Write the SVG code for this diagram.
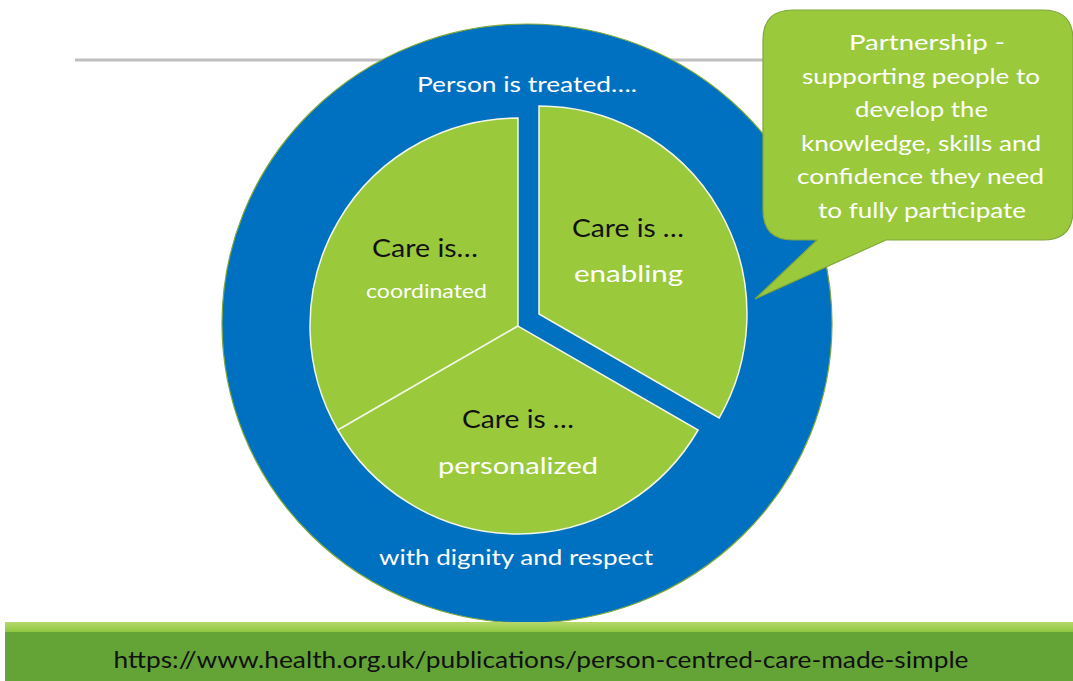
<svg xmlns="http://www.w3.org/2000/svg" width="1073" height="681" viewBox="0 0 1073 681">
  <defs>
    <linearGradient id="stripGrad" x1="0" y1="0" x2="0" y2="1">
      <stop offset="0" stop-color="#B5D96A"/>
      <stop offset="1" stop-color="#8CC63F"/>
    </linearGradient>
  </defs>
  <style>
    .txt { font-family: Lato, "Liberation Sans", sans-serif; text-anchor: middle; }
    .white { fill: #FFFFFF; }
    .dark { fill: #111111; }
    .sector { fill: #9ACA3C; stroke: #F2F7E6; stroke-width: 1.5; }
  </style>

  <rect width="1073" height="681" fill="#FFFFFF"/>

  <!-- header rule -->
  <line x1="75" y1="60" x2="770" y2="60" stroke="#BFBFBF" stroke-width="3"/>

  <!-- outer ring -->
  <g id="ring">
    <ellipse cx="527" cy="323.5" rx="305" ry="299.5" fill="#0070C0" stroke="#7FA83A" stroke-width="1.2"/>
    <text class="txt white" x="527" y="92" font-size="21" textLength="220" lengthAdjust="spacingAndGlyphs">Person is treated….</text>
    <text class="txt white" x="516" y="565" font-size="21" textLength="274" lengthAdjust="spacingAndGlyphs">with dignity and respect</text>
  </g>

  <!-- coordinated sector: -90deg to 150deg -->
  <g id="coordinated">
    <path class="sector" d="M518,326 L518,118 A208,208 0 0 0 337.9,430 Z"/>
    <text class="txt dark" x="425" y="257" font-size="25" textLength="106" lengthAdjust="spacingAndGlyphs">Care is…</text>
    <text class="txt white" x="426.5" y="298" font-size="19" textLength="121" lengthAdjust="spacingAndGlyphs">coordinated</text>
  </g>

  <!-- personalized sector: 150deg to 30deg -->
  <g id="personalized">
    <path class="sector" d="M518,326 L337.9,430 A208,208 0 0 0 698.1,430 Z"/>
    <text class="txt dark" x="518" y="428" font-size="25" textLength="112" lengthAdjust="spacingAndGlyphs">Care is …</text>
    <text class="txt white" x="518" y="474" font-size="24" textLength="160" lengthAdjust="spacingAndGlyphs">personalized</text>
  </g>

  <!-- enabling sector, pulled out along its bisector -->
  <g id="enabling">
    <path class="sector" d="M539,314 L539,106 A208,208 0 0 1 719.1,418 Z"/>
    <text class="txt dark" x="628" y="237" font-size="25" textLength="112" lengthAdjust="spacingAndGlyphs">Care is …</text>
    <text class="txt white" x="628.5" y="282" font-size="24" textLength="109" lengthAdjust="spacingAndGlyphs">enabling</text>
  </g>

  <!-- callout -->
  <g id="partnership">
    <path d="M793,10 L1043,10 Q1073,10 1073,40 L1073,210 Q1073,240 1043,240 L886,240 L755,299 L817,240 L793,240 Q763,240 763,210 L763,40 Q763,10 793,10 Z" fill="#9ACA3C" stroke="#7FA83A" stroke-width="1.2"/>
    <g class="txt white" font-size="21">
      <text x="927" y="50" textLength="156" lengthAdjust="spacingAndGlyphs">Partnership -</text>
      <text x="921" y="83.5" textLength="238" lengthAdjust="spacingAndGlyphs">supporting people to</text>
      <text x="921.5" y="117" textLength="133" lengthAdjust="spacingAndGlyphs">develop the</text>
      <text x="921" y="150.5" textLength="240" lengthAdjust="spacingAndGlyphs">knowledge, skills and</text>
      <text x="920.5" y="184" textLength="247" lengthAdjust="spacingAndGlyphs">confidence they need</text>
      <text x="922" y="217.5" textLength="208" lengthAdjust="spacingAndGlyphs">to fully participate</text>
    </g>
  </g>

  <!-- footer band -->
  <g id="footer">
    <rect x="5" y="622" width="1068" height="11" fill="url(#stripGrad)"/>
    <rect x="5" y="632" width="1068" height="49" fill="#64A437"/>
    <text class="txt dark" x="541" y="668" font-size="24" textLength="855" lengthAdjust="spacingAndGlyphs">https://www.health.org.uk/publications/person-centred-care-made-simple</text>
  </g>
</svg>
